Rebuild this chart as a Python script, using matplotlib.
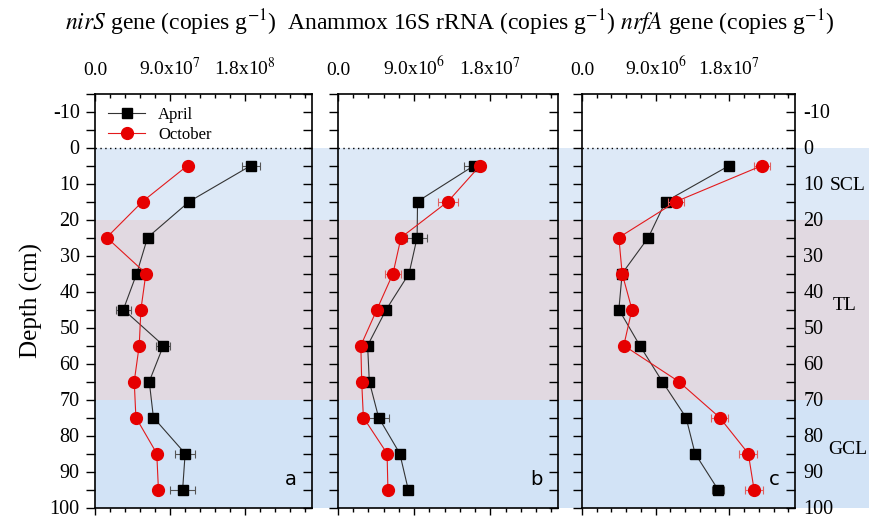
import matplotlib
matplotlib.use("Agg")
import matplotlib.pyplot as plt
from matplotlib.ticker import MultipleLocator, FixedLocator

plt.rcParams['font.family'] = ['Liberation Serif', 'DejaVu Serif']
plt.rcParams['mathtext.fontset'] = 'stix'
plt.rcParams['axes.unicode_minus'] = False

# depth of each sample (cm)
depth = [5, 15, 25, 35, 45, 55, 65, 75, 85, 95]

# nirS gene (copies g-1)
nirs_april = [1.87e8, 1.13e8, 6.3e7, 5.0e7, 3.4e7, 8.2e7, 6.5e7, 7.0e7, 1.08e8, 1.05e8]
nirs_april_err = [1.1e7, 0, 0, 3.6e6, 9e6, 8.4e6, 6e6, 2.4e6, 1.2e7, 1.46e7]
nirs_october = [1.11e8, 5.7e7, 1.4e7, 6.1e7, 5.5e7, 5.3e7, 4.7e7, 4.9e7, 7.4e7, 7.6e7]
nirs_october_err = [0, 0, 0, 3e6, 5e6, 0, 0, 6e6, 0, 0]

# Anammox 16S rRNA (copies g-1)
amx_april = [1.61e7, 9.4e6, 9.35e6, 8.4e6, 5.7e6, 3.5e6, 3.7e6, 4.8e6, 7.3e6, 8.3e6]
amx_april_err = [1.2e6, 0, 1.2e6, 0, 0, 0, 4e5, 1.2e6, 0, 3e5]
amx_october = [1.68e7, 1.30e7, 7.45e6, 6.5e6, 4.6e6, 2.7e6, 2.8e6, 3.0e6, 5.8e6, 5.9e6]
amx_october_err = [6e5, 1.2e6, 6e5, 9e5, 0, 0, 0, 6e5, 4e5, 0]

# nrfA gene (copies g-1)
nrfa_april = [1.80e7, 1.02e7, 8.1e6, 4.9e6, 4.5e6, 7.05e6, 9.8e6, 1.27e7, 1.38e7, 1.66e7]
nrfa_april_err = [4e5, 0, 0, 0, 0, 0, 0, 0, 0, 7e5]
nrfa_october = [2.20e7, 1.15e7, 4.5e6, 4.9e6, 6.1e6, 5.1e6, 1.18e7, 1.68e7, 2.03e7, 2.10e7]
nrfa_october_err = [1.0e6, 1.0e6, 6e5, 0, 0, 0, 0, 1.0e6, 1.1e6, 1.1e6]

title = (r"$\it{nirS}$ gene (copies g$^{-1}$)  Anammox 16S rRNA (copies g$^{-1}$)"
         r" $\it{nrfA}$ gene (copies g$^{-1}$)")
xmax = [2.6e8, 2.6e7, 2.6e7]
xstep = [9e7, 9e6, 9e6]
xlabels = [["0.0", r"9.0x10$^{7}$", r"1.8x10$^{8}$"],
           ["0.0", r"9.0x10$^{6}$", r"1.8x10$^{7}$"],
           ["0.0", r"9.0x10$^{6}$", r"1.8x10$^{7}$"]]
letters = ["a", "b", "c"]
zones = ["SCL", "TL", "GCL"]
zone_top = [0, 20, 70]
zone_bottom = [20, 70, 100]
zone_label_depth = [10.5, 44, 84]
zone_label_x = [1.164, 1.178, 1.155]
zone_colors = ["#dde9f7", "#e1d9e1", "#d2e3f6"]

W, H = 870, 516
fig = plt.figure(figsize=(8.7, 5.16), dpi=100)

top_px, bot_px = 93.5, 507.5
panel_px = [(95, 217), (338, 220), (582, 213)]

def frac(x0, w):
    return [x0 / W, (H - bot_px) / H, w / W, (bot_px - top_px) / H]

# shaded soil layers spanning all panels
bg = fig.add_axes(frac(95, 870 - 95), zorder=0)
bg.set_ylim(100, -15)
bg.set_xlim(0, 1)
bg.axis('off')
for y0, y1, col in zip(zone_top, zone_bottom, zone_colors):
    bg.axhspan(y0, y1, color=col, lw=0)

data = [(nirs_april, nirs_april_err, nirs_october, nirs_october_err),
        (amx_april, amx_april_err, amx_october, amx_october_err),
        (nrfa_april, nrfa_april_err, nrfa_october, nrfa_october_err)]

axes = []
handles = []
for i, (x0, w) in enumerate(panel_px):
    ax = fig.add_axes(frac(x0, w), zorder=2)
    ax.patch.set_alpha(0)
    apr, apr_err, octo, octo_err = data[i]

    ax.axhline(0, color='black', ls=(0, (1, 2.5)), lw=1, zorder=1)

    c1 = ax.errorbar(apr, depth, xerr=apr_err, color='#333333', lw=0.8,
                     marker='s', ms=7.5, mfc='black', mec='black',
                     ecolor='#555555', elinewidth=0.8, capsize=3, capthick=0.8,
                     zorder=3)
    c2 = ax.errorbar(octo, depth, xerr=octo_err, color='#e31a1c', lw=0.8,
                     marker='o', ms=8.5, mfc='#e60000', mec='#e60000',
                     ecolor='#e06060', elinewidth=0.8, capsize=3, capthick=0.8,
                     zorder=4)
    if i == 0:
        handles = [c1[0], c2[0]]

    ax.set_xlim(0, xmax[i])
    ax.set_ylim(100, -15)

    ax.xaxis.set_major_locator(FixedLocator([0, xstep[i], 2 * xstep[i]]))
    ax.xaxis.set_minor_locator(MultipleLocator(xstep[i] / 5))
    ax.set_xticklabels(xlabels[i])
    ax.tick_params(axis='x', which='both', top=True, bottom=True,
                   labeltop=True, labelbottom=False, labelsize=14, pad=5.5)
    ax.tick_params(axis='x', which='major', length=5, width=1)
    ax.tick_params(axis='x', which='minor', length=3, width=1)
    # ticks outward at bottom, inward at top
    for t in ax.xaxis.get_major_ticks() + ax.xaxis.get_minor_ticks():
        t.tick1line.set_marker(matplotlib.lines.TICKDOWN)
        t.tick2line.set_marker(matplotlib.lines.TICKDOWN)

    ax.yaxis.set_major_locator(MultipleLocator(10))
    ax.yaxis.set_minor_locator(MultipleLocator(5))
    ax.tick_params(axis='y', which='both', left=True, right=True,
                   labelleft=(i == 0), labelright=(i == 2),
                   labelsize=14.5, length=6.5, width=1,
                   pad=(4.5 if i == 0 else -0.5))
    # ticks outward on the left, inward on the right
    for t in ax.yaxis.get_major_ticks() + ax.yaxis.get_minor_ticks():
        t.tick1line.set_marker(matplotlib.lines.TICKLEFT)
        t.tick2line.set_marker(matplotlib.lines.TICKLEFT)

    for sp in ax.spines.values():
        sp.set_linewidth(1.2)

    ax.text(0.93, 0.045, letters[i], transform=ax.transAxes, ha='right',
            va='bottom', fontsize=14, family='DejaVu Sans')
    axes.append(ax)

fig.text(450 / W, 1 - 30 / H, title, ha='center', va='baseline', fontsize=17)

axes[0].legend(handles, ['April', 'October'], loc='upper left', frameon=False,
               fontsize=12, handlelength=2.2, borderaxespad=0.4,
               labelspacing=0.25, bbox_to_anchor=(0.0, 1.0))
axes[0].set_ylabel("Depth (cm)", fontsize=18, labelpad=5)

for name, yd, xl in zip(zones, zone_label_depth, zone_label_x):
    axes[2].text(xl, yd, name, transform=axes[2].get_yaxis_transform(),
                 ha='left', va='center', fontsize=14)

fig.savefig("out.png", dpi=100)
